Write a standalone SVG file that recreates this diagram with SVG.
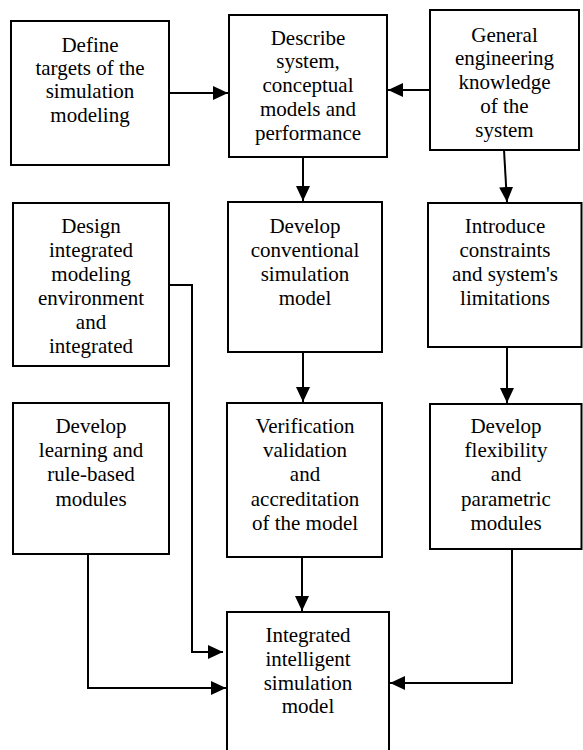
<svg xmlns="http://www.w3.org/2000/svg" width="583" height="750" viewBox="0 0 583 750">
<defs>
<marker id="ah" markerUnits="userSpaceOnUse" markerWidth="16" markerHeight="16" refX="15" refY="7" orient="auto">
<path d="M0,0 L15,7 L0,14 Z" fill="#000"/>
</marker>
</defs>
<rect width="583" height="750" fill="#fff"/>
<g id="n-define">
<rect fill="#fff" stroke="#000" stroke-width="2" x="11" y="21" width="158" height="144"/>
<text font-family="Liberation Serif" font-size="21" text-anchor="middle" x="90" y="52">Define</text>
<text font-family="Liberation Serif" font-size="21" text-anchor="middle" x="90" y="75">targets of the</text>
<text font-family="Liberation Serif" font-size="21" text-anchor="middle" x="90" y="98">simulation</text>
<text font-family="Liberation Serif" font-size="21" text-anchor="middle" x="90" y="122">modeling</text>
</g>
<g id="n-describe">
<rect fill="#fff" stroke="#000" stroke-width="2" x="229" y="15" width="158" height="142"/>
<text font-family="Liberation Serif" font-size="21" text-anchor="middle" x="308" y="45">Describe</text>
<text font-family="Liberation Serif" font-size="21" text-anchor="middle" x="308" y="68">system,</text>
<text font-family="Liberation Serif" font-size="21" text-anchor="middle" x="308" y="92">conceptual</text>
<text font-family="Liberation Serif" font-size="21" text-anchor="middle" x="308" y="116">models and</text>
<text font-family="Liberation Serif" font-size="21" text-anchor="middle" x="308" y="140">performance</text>
</g>
<g id="n-general">
<rect fill="#fff" stroke="#000" stroke-width="2" x="430" y="10" width="149" height="140"/>
<text font-family="Liberation Serif" font-size="21" text-anchor="middle" x="504.5" y="42">General</text>
<text font-family="Liberation Serif" font-size="21" text-anchor="middle" x="504.5" y="65">engineering</text>
<text font-family="Liberation Serif" font-size="21" text-anchor="middle" x="504.5" y="89">knowledge</text>
<text font-family="Liberation Serif" font-size="21" text-anchor="middle" x="504.5" y="113">of the</text>
<text font-family="Liberation Serif" font-size="21" text-anchor="middle" x="504.5" y="137">system</text>
</g>
<g id="n-design">
<rect fill="#fff" stroke="#000" stroke-width="2" x="13" y="203" width="156" height="163"/>
<text font-family="Liberation Serif" font-size="21" text-anchor="middle" x="91" y="233">Design</text>
<text font-family="Liberation Serif" font-size="21" text-anchor="middle" x="91" y="257">integrated</text>
<text font-family="Liberation Serif" font-size="21" text-anchor="middle" x="91" y="281">modeling</text>
<text font-family="Liberation Serif" font-size="21" text-anchor="middle" x="91" y="305">environment</text>
<text font-family="Liberation Serif" font-size="21" text-anchor="middle" x="91" y="329">and</text>
<text font-family="Liberation Serif" font-size="21" text-anchor="middle" x="91" y="353">integrated</text>
</g>
<g id="n-conventional">
<rect fill="#fff" stroke="#000" stroke-width="2" x="228" y="202" width="154" height="150"/>
<text font-family="Liberation Serif" font-size="21" text-anchor="middle" x="305" y="233">Develop</text>
<text font-family="Liberation Serif" font-size="21" text-anchor="middle" x="305" y="257">conventional</text>
<text font-family="Liberation Serif" font-size="21" text-anchor="middle" x="305" y="281">simulation</text>
<text font-family="Liberation Serif" font-size="21" text-anchor="middle" x="305" y="305">model</text>
</g>
<g id="n-introduce">
<rect fill="#fff" stroke="#000" stroke-width="2" x="428" y="203" width="153.5" height="144"/>
<text font-family="Liberation Serif" font-size="21" text-anchor="middle" x="505" y="233">Introduce</text>
<text font-family="Liberation Serif" font-size="21" text-anchor="middle" x="505" y="257">constraints</text>
<text font-family="Liberation Serif" font-size="21" text-anchor="middle" x="505" y="281">and system's</text>
<text font-family="Liberation Serif" font-size="21" text-anchor="middle" x="505" y="305">limitations</text>
</g>
<g id="n-learning">
<rect fill="#fff" stroke="#000" stroke-width="2" x="13" y="403" width="156" height="151"/>
<text font-family="Liberation Serif" font-size="21" text-anchor="middle" x="91" y="433">Develop</text>
<text font-family="Liberation Serif" font-size="21" text-anchor="middle" x="91" y="457">learning and</text>
<text font-family="Liberation Serif" font-size="21" text-anchor="middle" x="91" y="481">rule-based</text>
<text font-family="Liberation Serif" font-size="21" text-anchor="middle" x="91" y="506">modules</text>
</g>
<g id="n-verification">
<rect fill="#fff" stroke="#000" stroke-width="2" x="227" y="403" width="155" height="154"/>
<text font-family="Liberation Serif" font-size="21" text-anchor="middle" x="305" y="433">Verification</text>
<text font-family="Liberation Serif" font-size="21" text-anchor="middle" x="305" y="457">validation</text>
<text font-family="Liberation Serif" font-size="21" text-anchor="middle" x="305" y="481">and</text>
<text font-family="Liberation Serif" font-size="21" text-anchor="middle" x="305" y="506">accreditation</text>
<text font-family="Liberation Serif" font-size="21" text-anchor="middle" x="305" y="530">of the model</text>
</g>
<g id="n-flexibility">
<rect fill="#fff" stroke="#000" stroke-width="2" x="430" y="404" width="151.5" height="145"/>
<text font-family="Liberation Serif" font-size="21" text-anchor="middle" x="506" y="433">Develop</text>
<text font-family="Liberation Serif" font-size="21" text-anchor="middle" x="506" y="457">flexibility</text>
<text font-family="Liberation Serif" font-size="21" text-anchor="middle" x="506" y="481">and</text>
<text font-family="Liberation Serif" font-size="21" text-anchor="middle" x="506" y="506">parametric</text>
<text font-family="Liberation Serif" font-size="21" text-anchor="middle" x="506" y="530">modules</text>
</g>
<g id="n-integrated">
<rect fill="#fff" stroke="#000" stroke-width="2" x="227" y="612" width="162" height="150"/>
<text font-family="Liberation Serif" font-size="21" text-anchor="middle" x="308" y="642">Integrated</text>
<text font-family="Liberation Serif" font-size="21" text-anchor="middle" x="308" y="666">intelligent</text>
<text font-family="Liberation Serif" font-size="21" text-anchor="middle" x="308" y="690">simulation</text>
<text font-family="Liberation Serif" font-size="21" text-anchor="middle" x="308" y="713">model</text>
</g>
<g id="connectors" fill="none" stroke="#000" stroke-width="2">
<path marker-end="url(#ah)" d="M169,93 H228"/>
<path marker-end="url(#ah)" d="M430,90 H388"/>
<path marker-end="url(#ah)" d="M303,157 V201"/>
<path marker-end="url(#ah)" d="M504,150 L507,202"/>
<path marker-end="url(#ah)" d="M303,352 V402"/>
<path marker-end="url(#ah)" d="M507,347 V403"/>
<path marker-end="url(#ah)" d="M302,557 V611"/>
<path marker-end="url(#ah)" d="M169,285 H192 V652 H223"/>
<path marker-end="url(#ah)" d="M88,554 V688 H226"/>
<path marker-end="url(#ah)" d="M512,549 V683 H390"/>
</g>
</svg>
